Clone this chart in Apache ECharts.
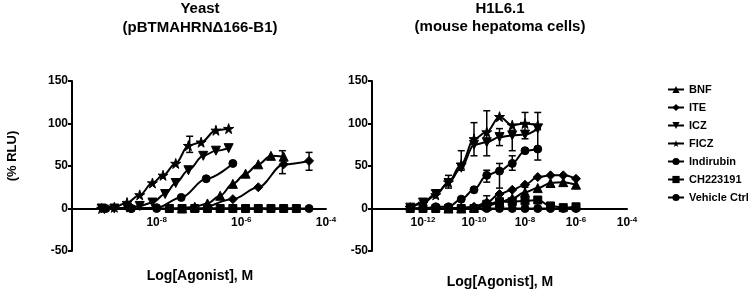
<!DOCTYPE html>
<html><head><meta charset="utf-8">
<script src="https://cdn.jsdelivr.net/npm/echarts@6/dist/echarts.min.js"></script>
<style>html,body{margin:0;padding:0;background:#fff}#c{width:748px;height:291px}</style>
</head><body><div id="c"></div><script>
// ---- Data (x = log10 concentration [M], y = % RLU) ----
const seriesNames = ['BNF','ITE','ICZ','FICZ','Indirubin','CH223191','Vehicle Ctrl'];
const yTicks = [-50, 0, 50, 100, 150];

// Left panel: Yeast
const yeast_BNF = [[-7.4,0],[-7.1,2],[-6.8,6],[-6.5,15],[-6.2,29],[-5.9,41],[-5.6,52],[-5.3,62],[-5.0,61]];
const yeast_ITE = [[-6.8,1],[-6.2,11],[-5.6,25],[-5.0,52],[-4.4,56]];
const yeast_ICZ = [[-9.3,0],[-9.0,0],[-8.7,1],[-8.4,3],[-8.1,7],[-7.8,17],[-7.55,30],[-7.25,45],[-6.9,62],[-6.6,68],[-6.3,71]];
const yeast_FICZ = [[-9.3,0],[-9.0,1.5],[-8.7,7],[-8.4,16],[-8.1,30],[-7.85,39],[-7.55,53],[-7.25,74],[-6.95,78],[-6.6,92],[-6.3,94]];
const yeast_Indirubin = [[-8.6,0],[-8.0,1],[-7.42,13],[-6.83,35],[-6.2,53]];
const yeast_CH223191 = [[-7.7,0],[-7.4,0],[-7.1,0],[-6.8,0],[-6.5,0],[-6.2,0],[-5.9,0],[-5.6,0],[-5.3,0],[-5.0,0],[-4.7,0]];
const yeast_Vehicle = [[-9.2,0],[-8.6,0],[-8.0,0],[-7.4,0],[-6.8,0],[-6.2,0],[-5.6,0],[-5.0,0],[-4.4,0]];
const yeast_err = [[-7.22,66,85],[-5.03,41,68],[-4.4,45,66]];

// Right panel: H1L6.1
const h1_BNF = [[-11.0,0],[-10.5,0],[-10.0,1],[-9.5,3],[-9.0,7],[-8.5,12],[-8.0,19],[-7.5,24],[-7.0,30],[-6.5,31],[-6.0,28]];
const h1_ITE = [[-11.0,0],[-10.5,1],[-10.0,2],[-9.5,7],[-9.0,17],[-8.5,22],[-8.0,28],[-7.5,37],[-7.0,39],[-6.5,39],[-6.0,35]];
const h1_ICZ = [[-12.5,1],[-12.0,7],[-11.5,17],[-11.0,30],[-10.5,48],[-10.0,75],[-9.5,78],[-9.0,84],[-8.5,86],[-8.0,87],[-7.5,94]];
const h1_FICZ = [[-12.5,1],[-12.0,6],[-11.5,16],[-11.0,31],[-10.5,52],[-10.0,82],[-9.5,90],[-9.0,108],[-8.5,98],[-8.0,100],[-7.5,98]];
const h1_Indirubin = [[-12.5,0],[-12.0,0],[-11.5,2],[-11.0,2],[-10.5,11],[-10.0,22],[-9.5,39],[-9.0,44],[-8.5,53],[-8.0,68],[-7.5,70]];
const h1_CH223191 = [[-12.5,0],[-12.0,0],[-11.5,0],[-11.0,0],[-10.5,0],[-10.0,0],[-9.5,5],[-9.0,8],[-8.5,8],[-8.0,9],[-7.5,10],[-7.0,3],[-6.5,1],[-6.0,2]];
const h1_Vehicle = [[-12.5,0],[-12.0,0],[-11.5,0],[-11.0,0],[-10.5,0],[-10.0,0],[-9.5,0],[-9.0,0],[-8.5,0],[-8.0,0],[-7.5,0],[-7.0,0],[-6.5,0],[-6.0,0]];
const h1_err = [[-11.0,24,39],[-10.5,45,68],[-10.0,62,101],[-9.5,62,115],[-9.0,74,94],[-8.5,68,92],[-8.0,82,113],[-7.5,57,113],
                [-9.5,31,45],[-9.0,24,53],[-8.5,45,62],[-9.5,2,15],[-8.0,13,25]];

// ---- Styles ----
const FONT = 'Liberation Sans, Arial, sans-serif';
const STAR = 'path://M50,0L61,35L98,35L68,57L79,91L50,70L21,91L32,57L2,35L39,35Z';
const TRI_DOWN = 'path://M0,0L100,0L50,90Z';
const symbols = {
  'BNF': ['triangle', 9], 'ITE': ['diamond', 9], 'ICZ': [TRI_DOWN, 9], 'FICZ': [STAR, 10],
  'Indirubin': ['circle', 8], 'CH223191': ['rect', 8], 'Vehicle Ctrl': ['circle', 8]
};
const GRID_TOP = 81, GRID_H = 170;
const zeroOffset = -GRID_H * (0 - yTicks[0]) / (yTicks[yTicks.length-1] - yTicks[0]);

function lineSeries(name, data, idx) {
  return {
    name, type: 'line', data, xAxisIndex: idx, yAxisIndex: idx,
    smooth: 0.35, smoothMonotone: 'x', symbol: symbols[name][0], symbolSize: symbols[name][1],
    lineStyle: { color: '#000', width: 2 }, itemStyle: { color: '#000', borderColor: '#000' },
    z: 3, animation: false
  };
}
function errRender(params, api) {
  const x = api.value(0), lo = api.value(1), hi = api.value(2);
  const p1 = api.coord([x, lo]), p2 = api.coord([x, hi]);
  const w = 3.5, st = { stroke: '#000', lineWidth: 1.5 };
  return { type: 'group', children: [
    { type: 'line', shape: { x1: p1[0], y1: p1[1], x2: p2[0], y2: p2[1] }, style: st },
    { type: 'line', shape: { x1: p1[0]-w, y1: p1[1], x2: p1[0]+w, y2: p1[1] }, style: st },
    { type: 'line', shape: { x1: p2[0]-w, y1: p2[1], x2: p2[0]+w, y2: p2[1] }, style: st }
  ]};
}
function errSeries(data, idx) {
  return { type: 'custom', data, xAxisIndex: idx, yAxisIndex: idx, renderItem: errRender,
           encode: { x: 0, y: [1, 2] }, z: 2, animation: false, silent: true };
}
function xAxis(idx, min, max) {
  return {
    type: 'value', gridIndex: idx, min, max, interval: 2, position: 'bottom', offset: zeroOffset,
    axisLine: { onZero: false, lineStyle: { color: '#000', width: 2 } },
    axisTick: { show: false },
    splitLine: { show: false },
    axisLabel: {
      showMinLabel: false, margin: 7, color: '#000',
      formatter: v => '{b|10}{s|' + v + '}',
      rich: {
        b: { fontSize: 12, fontWeight: 'bold', fontFamily: FONT, color: '#000' },
        s: { fontSize: 8, fontWeight: 'bold', fontFamily: FONT, color: '#000', padding: [0, 0, 7, 0] }
      }
    }
  };
}
function yAxis(idx) {
  return {
    type: 'value', gridIndex: idx, min: yTicks[0], max: yTicks[yTicks.length-1], interval: 50,
    axisLine: { show: true, onZero: false, lineStyle: { color: '#000', width: 2 } },
    axisTick: { show: true, length: 4, lineStyle: { color: '#000', width: 2 } },
    splitLine: { show: false },
    axisLabel: { margin: 4, color: '#000', fontSize: 12, fontWeight: 'bold', fontFamily: FONT }
  };
}
function txt(text, x, y, size, rot) {
  return { type: 'text', x, y, rotation: rot || 0,
    style: { text, fill: '#000', font: 'bold ' + size + 'px ' + FONT, textAlign: 'center', textVerticalAlign: 'middle' } };
}

const option = {
  backgroundColor: '#fff',
  animation: false,
  grid: [
    { left: 72, top: GRID_TOP, width: 254, height: GRID_H },
    { left: 372, top: GRID_TOP, width: 255, height: GRID_H }
  ],
  xAxis: [xAxis(0, -10, -4), xAxis(1, -14, -4)],
  yAxis: [yAxis(0), yAxis(1)],
  legend: {
    data: seriesNames, orient: 'vertical', left: 662, top: 79, itemGap: 7,
    itemWidth: 16, itemHeight: 9, selectedMode: false,
    textStyle: { color: '#000', fontSize: 11, fontWeight: 'bold', fontFamily: FONT }
  },
  graphic: [
    txt('Yeast', 200, 9, 15), txt('(pBTMAHRN\u0394166-B1)', 200, 28, 15),
    txt('H1L6.1', 500, 9, 15), txt('(mouse hepatoma cells)', 500, 27, 15),
    txt('(% RLU)', 12, 156, 13, Math.PI / 2),
    txt('Log[Agonist], M', 200, 276, 14), txt('Log[Agonist], M', 500, 282, 14)
  ],
  series: [
    lineSeries('Vehicle Ctrl', yeast_Vehicle, 0),
    lineSeries('CH223191', yeast_CH223191, 0),
    lineSeries('Indirubin', yeast_Indirubin, 0),
    lineSeries('FICZ', yeast_FICZ, 0),
    lineSeries('ICZ', yeast_ICZ, 0),
    lineSeries('ITE', yeast_ITE, 0),
    lineSeries('BNF', yeast_BNF, 0),
    errSeries(yeast_err, 0),
    lineSeries('Vehicle Ctrl', h1_Vehicle, 1),
    lineSeries('CH223191', h1_CH223191, 1),
    lineSeries('Indirubin', h1_Indirubin, 1),
    lineSeries('FICZ', h1_FICZ, 1),
    lineSeries('ICZ', h1_ICZ, 1),
    lineSeries('ITE', h1_ITE, 1),
    lineSeries('BNF', h1_BNF, 1),
    errSeries(h1_err, 1)
  ]
};
const chart = echarts.init(document.getElementById('c'), null, { renderer: 'canvas' });
chart.setOption(option);
</script></body></html>
